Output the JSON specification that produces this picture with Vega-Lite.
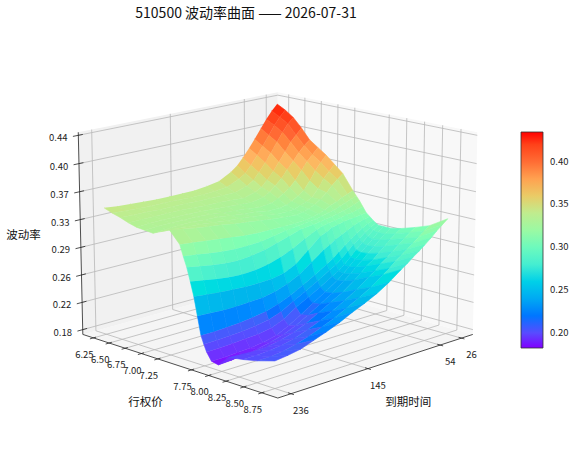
{"$schema":"https://vega.github.io/schema/vega-lite/v6.json","width":576,"height":465,"padding":0,"autosize":"none","background":"white","config":{"view":{"stroke":null},"font":"Noto Sans CJK SC"},
"title":{"text":"510500 波动率曲面 —— 2026-07-31","fontSize":14,"fontWeight":"normal","font":"Noto Sans CJK SC","color":"#111","anchor":"middle","orient":"top","offset":-21,"dx":-42},
"datasets":{"grid":[
{"k":0,"s":6.25,"t":26,"v":0.434},{"k":1,"s":6.25,"t":33,"v":0.426},{"k":2,"s":6.25,"t":40,"v":0.416},{"k":3,"s":6.25,"t":47,"v":0.405},{"k":4,"s":6.25,"t":55,"v":0.392},{"k":5,"s":6.25,"t":62,"v":0.381},{"k":6,"s":6.25,"t":70,"v":0.37},{"k":7,"s":6.25,"t":77,"v":0.361},{"k":8,"s":6.25,"t":85,"v":0.354},{"k":9,"s":6.25,"t":100,"v":0.345},{"k":10,"s":6.25,"t":115,"v":0.342},{"k":11,"s":6.25,"t":130,"v":0.34},{"k":12,"s":6.25,"t":145,"v":0.34},{"k":13,"s":6.25,"t":160,"v":0.34},{"k":14,"s":6.25,"t":176,"v":0.34},{"k":15,"s":6.25,"t":191,"v":0.341},{"k":16,"s":6.25,"t":206,"v":0.342},{"k":17,"s":6.25,"t":221,"v":0.343},{"k":18,"s":6.25,"t":236,"v":0.345},
{"k":100,"s":6.375,"t":26,"v":0.428},{"k":101,"s":6.375,"t":33,"v":0.42},{"k":102,"s":6.375,"t":40,"v":0.41},{"k":103,"s":6.375,"t":47,"v":0.398},{"k":104,"s":6.375,"t":55,"v":0.385},{"k":105,"s":6.375,"t":62,"v":0.374},{"k":106,"s":6.375,"t":70,"v":0.362},{"k":107,"s":6.375,"t":77,"v":0.353},{"k":108,"s":6.375,"t":85,"v":0.347},{"k":109,"s":6.375,"t":100,"v":0.34},{"k":110,"s":6.375,"t":115,"v":0.338},{"k":111,"s":6.375,"t":130,"v":0.337},{"k":112,"s":6.375,"t":145,"v":0.337},{"k":113,"s":6.375,"t":160,"v":0.338},{"k":114,"s":6.375,"t":176,"v":0.338},{"k":115,"s":6.375,"t":191,"v":0.338},{"k":116,"s":6.375,"t":206,"v":0.339},{"k":117,"s":6.375,"t":221,"v":0.34},{"k":118,"s":6.375,"t":236,"v":0.341},
{"k":200,"s":6.5,"t":26,"v":0.42},{"k":201,"s":6.5,"t":33,"v":0.413},{"k":202,"s":6.5,"t":40,"v":0.403},{"k":203,"s":6.5,"t":47,"v":0.391},{"k":204,"s":6.5,"t":55,"v":0.378},{"k":205,"s":6.5,"t":62,"v":0.366},{"k":206,"s":6.5,"t":70,"v":0.355},{"k":207,"s":6.5,"t":77,"v":0.346},{"k":208,"s":6.5,"t":85,"v":0.34},{"k":209,"s":6.5,"t":100,"v":0.335},{"k":210,"s":6.5,"t":115,"v":0.335},{"k":211,"s":6.5,"t":130,"v":0.335},{"k":212,"s":6.5,"t":145,"v":0.335},{"k":213,"s":6.5,"t":160,"v":0.336},{"k":214,"s":6.5,"t":176,"v":0.336},{"k":215,"s":6.5,"t":191,"v":0.336},{"k":216,"s":6.5,"t":206,"v":0.337},{"k":217,"s":6.5,"t":221,"v":0.337},{"k":218,"s":6.5,"t":236,"v":0.338},
{"k":300,"s":6.625,"t":26,"v":0.408},{"k":301,"s":6.625,"t":33,"v":0.4},{"k":302,"s":6.625,"t":40,"v":0.392},{"k":303,"s":6.625,"t":47,"v":0.38},{"k":304,"s":6.625,"t":55,"v":0.368},{"k":305,"s":6.625,"t":62,"v":0.357},{"k":306,"s":6.625,"t":70,"v":0.347},{"k":307,"s":6.625,"t":77,"v":0.339},{"k":308,"s":6.625,"t":85,"v":0.334},{"k":309,"s":6.625,"t":100,"v":0.33},{"k":310,"s":6.625,"t":115,"v":0.331},{"k":311,"s":6.625,"t":130,"v":0.332},{"k":312,"s":6.625,"t":145,"v":0.332},{"k":313,"s":6.625,"t":160,"v":0.333},{"k":314,"s":6.625,"t":176,"v":0.334},{"k":315,"s":6.625,"t":191,"v":0.334},{"k":316,"s":6.625,"t":206,"v":0.334},{"k":317,"s":6.625,"t":221,"v":0.334},{"k":318,"s":6.625,"t":236,"v":0.334},
{"k":400,"s":6.75,"t":26,"v":0.394},{"k":401,"s":6.75,"t":33,"v":0.388},{"k":402,"s":6.75,"t":40,"v":0.38},{"k":403,"s":6.75,"t":47,"v":0.37},{"k":404,"s":6.75,"t":55,"v":0.36},{"k":405,"s":6.75,"t":62,"v":0.35},{"k":406,"s":6.75,"t":70,"v":0.342},{"k":407,"s":6.75,"t":77,"v":0.335},{"k":408,"s":6.75,"t":85,"v":0.33},{"k":409,"s":6.75,"t":100,"v":0.327},{"k":410,"s":6.75,"t":115,"v":0.328},{"k":411,"s":6.75,"t":130,"v":0.329},{"k":412,"s":6.75,"t":145,"v":0.33},{"k":413,"s":6.75,"t":160,"v":0.331},{"k":414,"s":6.75,"t":176,"v":0.332},{"k":415,"s":6.75,"t":191,"v":0.332},{"k":416,"s":6.75,"t":206,"v":0.332},{"k":417,"s":6.75,"t":221,"v":0.332},{"k":418,"s":6.75,"t":236,"v":0.331},
{"k":500,"s":6.875,"t":26,"v":0.386},{"k":501,"s":6.875,"t":33,"v":0.378},{"k":502,"s":6.875,"t":40,"v":0.37},{"k":503,"s":6.875,"t":47,"v":0.36},{"k":504,"s":6.875,"t":55,"v":0.348},{"k":505,"s":6.875,"t":62,"v":0.34},{"k":506,"s":6.875,"t":70,"v":0.334},{"k":507,"s":6.875,"t":77,"v":0.329},{"k":508,"s":6.875,"t":85,"v":0.325},{"k":509,"s":6.875,"t":100,"v":0.323},{"k":510,"s":6.875,"t":115,"v":0.325},{"k":511,"s":6.875,"t":130,"v":0.327},{"k":512,"s":6.875,"t":145,"v":0.328},{"k":513,"s":6.875,"t":160,"v":0.33},{"k":514,"s":6.875,"t":176,"v":0.331},{"k":515,"s":6.875,"t":191,"v":0.331},{"k":516,"s":6.875,"t":206,"v":0.331},{"k":517,"s":6.875,"t":221,"v":0.331},{"k":518,"s":6.875,"t":236,"v":0.33},
{"k":600,"s":7,"t":26,"v":0.378},{"k":601,"s":7,"t":33,"v":0.37},{"k":602,"s":7,"t":40,"v":0.36},{"k":603,"s":7,"t":47,"v":0.348},{"k":604,"s":7,"t":55,"v":0.337},{"k":605,"s":7,"t":62,"v":0.331},{"k":606,"s":7,"t":70,"v":0.326},{"k":607,"s":7,"t":77,"v":0.323},{"k":608,"s":7,"t":85,"v":0.321},{"k":609,"s":7,"t":100,"v":0.321},{"k":610,"s":7,"t":115,"v":0.324},{"k":611,"s":7,"t":130,"v":0.325},{"k":612,"s":7,"t":145,"v":0.327},{"k":613,"s":7,"t":160,"v":0.329},{"k":614,"s":7,"t":176,"v":0.33},{"k":615,"s":7,"t":191,"v":0.331},{"k":616,"s":7,"t":206,"v":0.331},{"k":617,"s":7,"t":221,"v":0.33},{"k":618,"s":7,"t":236,"v":0.329},
{"k":700,"s":7.125,"t":26,"v":0.368},{"k":701,"s":7.125,"t":33,"v":0.36},{"k":702,"s":7.125,"t":40,"v":0.352},{"k":703,"s":7.125,"t":47,"v":0.34},{"k":704,"s":7.125,"t":55,"v":0.33},{"k":705,"s":7.125,"t":62,"v":0.326},{"k":706,"s":7.125,"t":70,"v":0.323},{"k":707,"s":7.125,"t":77,"v":0.32},{"k":708,"s":7.125,"t":85,"v":0.319},{"k":709,"s":7.125,"t":100,"v":0.319},{"k":710,"s":7.125,"t":115,"v":0.322},{"k":711,"s":7.125,"t":130,"v":0.324},{"k":712,"s":7.125,"t":145,"v":0.326},{"k":713,"s":7.125,"t":160,"v":0.327},{"k":714,"s":7.125,"t":176,"v":0.329},{"k":715,"s":7.125,"t":191,"v":0.331},{"k":716,"s":7.125,"t":206,"v":0.332},{"k":717,"s":7.125,"t":221,"v":0.333},{"k":718,"s":7.125,"t":236,"v":0.334},
{"k":800,"s":7.25,"t":26,"v":0.358},{"k":801,"s":7.25,"t":33,"v":0.352},{"k":802,"s":7.25,"t":40,"v":0.345},{"k":803,"s":7.25,"t":47,"v":0.337},{"k":804,"s":7.25,"t":55,"v":0.33},{"k":805,"s":7.25,"t":62,"v":0.325},{"k":806,"s":7.25,"t":70,"v":0.321},{"k":807,"s":7.25,"t":77,"v":0.319},{"k":808,"s":7.25,"t":85,"v":0.317},{"k":809,"s":7.25,"t":100,"v":0.318},{"k":810,"s":7.25,"t":115,"v":0.32},{"k":811,"s":7.25,"t":130,"v":0.322},{"k":812,"s":7.25,"t":145,"v":0.324},{"k":813,"s":7.25,"t":160,"v":0.326},{"k":814,"s":7.25,"t":176,"v":0.329},{"k":815,"s":7.25,"t":191,"v":0.331},{"k":816,"s":7.25,"t":206,"v":0.333},{"k":817,"s":7.25,"t":221,"v":0.336},{"k":818,"s":7.25,"t":236,"v":0.339},
{"k":900,"s":7.4,"t":26,"v":0.338},{"k":901,"s":7.4,"t":33,"v":0.335},{"k":902,"s":7.4,"t":40,"v":0.332},{"k":903,"s":7.4,"t":47,"v":0.328},{"k":904,"s":7.4,"t":55,"v":0.325},{"k":905,"s":7.4,"t":62,"v":0.321},{"k":906,"s":7.4,"t":70,"v":0.318},{"k":907,"s":7.4,"t":77,"v":0.316},{"k":908,"s":7.4,"t":85,"v":0.314},{"k":909,"s":7.4,"t":100,"v":0.313},{"k":910,"s":7.4,"t":115,"v":0.313},{"k":911,"s":7.4,"t":130,"v":0.313},{"k":912,"s":7.4,"t":145,"v":0.313},{"k":913,"s":7.4,"t":160,"v":0.314},{"k":914,"s":7.4,"t":176,"v":0.316},{"k":915,"s":7.4,"t":191,"v":0.318},{"k":916,"s":7.4,"t":206,"v":0.32},{"k":917,"s":7.4,"t":221,"v":0.322},{"k":918,"s":7.4,"t":236,"v":0.324},
{"k":1000,"s":7.45,"t":26,"v":0.332},{"k":1001,"s":7.45,"t":33,"v":0.329},{"k":1002,"s":7.45,"t":40,"v":0.326},{"k":1003,"s":7.45,"t":47,"v":0.323},{"k":1004,"s":7.45,"t":55,"v":0.32},{"k":1005,"s":7.45,"t":62,"v":0.318},{"k":1006,"s":7.45,"t":70,"v":0.316},{"k":1007,"s":7.45,"t":77,"v":0.314},{"k":1008,"s":7.45,"t":85,"v":0.313},{"k":1009,"s":7.45,"t":100,"v":0.311},{"k":1010,"s":7.45,"t":115,"v":0.309},{"k":1011,"s":7.45,"t":130,"v":0.306},{"k":1012,"s":7.45,"t":145,"v":0.303},{"k":1013,"s":7.45,"t":160,"v":0.302},{"k":1014,"s":7.45,"t":176,"v":0.302},{"k":1015,"s":7.45,"t":191,"v":0.303},{"k":1016,"s":7.45,"t":206,"v":0.305},{"k":1017,"s":7.45,"t":221,"v":0.308},{"k":1018,"s":7.45,"t":236,"v":0.31},
{"k":1100,"s":7.5,"t":26,"v":0.326},{"k":1101,"s":7.5,"t":33,"v":0.323},{"k":1102,"s":7.5,"t":40,"v":0.32},{"k":1103,"s":7.5,"t":47,"v":0.318},{"k":1104,"s":7.5,"t":55,"v":0.316},{"k":1105,"s":7.5,"t":62,"v":0.314},{"k":1106,"s":7.5,"t":70,"v":0.313},{"k":1107,"s":7.5,"t":77,"v":0.311},{"k":1108,"s":7.5,"t":85,"v":0.31},{"k":1109,"s":7.5,"t":100,"v":0.308},{"k":1110,"s":7.5,"t":115,"v":0.303},{"k":1111,"s":7.5,"t":130,"v":0.298},{"k":1112,"s":7.5,"t":145,"v":0.293},{"k":1113,"s":7.5,"t":160,"v":0.29},{"k":1114,"s":7.5,"t":176,"v":0.288},{"k":1115,"s":7.5,"t":191,"v":0.289},{"k":1116,"s":7.5,"t":206,"v":0.291},{"k":1117,"s":7.5,"t":221,"v":0.294},{"k":1118,"s":7.5,"t":236,"v":0.297},
{"k":1200,"s":7.55,"t":26,"v":0.319},{"k":1201,"s":7.55,"t":33,"v":0.317},{"k":1202,"s":7.55,"t":40,"v":0.315},{"k":1203,"s":7.55,"t":47,"v":0.314},{"k":1204,"s":7.55,"t":55,"v":0.312},{"k":1205,"s":7.55,"t":62,"v":0.31},{"k":1206,"s":7.55,"t":70,"v":0.309},{"k":1207,"s":7.55,"t":77,"v":0.307},{"k":1208,"s":7.55,"t":85,"v":0.304},{"k":1209,"s":7.55,"t":100,"v":0.296},{"k":1210,"s":7.55,"t":115,"v":0.287},{"k":1211,"s":7.55,"t":130,"v":0.28},{"k":1212,"s":7.55,"t":145,"v":0.275},{"k":1213,"s":7.55,"t":160,"v":0.272},{"k":1214,"s":7.55,"t":176,"v":0.271},{"k":1215,"s":7.55,"t":191,"v":0.272},{"k":1216,"s":7.55,"t":206,"v":0.274},{"k":1217,"s":7.55,"t":221,"v":0.277},{"k":1218,"s":7.55,"t":236,"v":0.28},
{"k":1300,"s":7.6,"t":26,"v":0.312},{"k":1301,"s":7.6,"t":33,"v":0.311},{"k":1302,"s":7.6,"t":40,"v":0.31},{"k":1303,"s":7.6,"t":47,"v":0.309},{"k":1304,"s":7.6,"t":55,"v":0.308},{"k":1305,"s":7.6,"t":62,"v":0.306},{"k":1306,"s":7.6,"t":70,"v":0.304},{"k":1307,"s":7.6,"t":77,"v":0.3},{"k":1308,"s":7.6,"t":85,"v":0.296},{"k":1309,"s":7.6,"t":100,"v":0.282},{"k":1310,"s":7.6,"t":115,"v":0.268},{"k":1311,"s":7.6,"t":130,"v":0.26},{"k":1312,"s":7.6,"t":145,"v":0.257},{"k":1313,"s":7.6,"t":160,"v":0.256},{"k":1314,"s":7.6,"t":176,"v":0.256},{"k":1315,"s":7.6,"t":191,"v":0.257},{"k":1316,"s":7.6,"t":206,"v":0.258},{"k":1317,"s":7.6,"t":221,"v":0.26},{"k":1318,"s":7.6,"t":236,"v":0.262},
{"k":1400,"s":7.65,"t":26,"v":0.308},{"k":1401,"s":7.65,"t":33,"v":0.306},{"k":1402,"s":7.65,"t":40,"v":0.304},{"k":1403,"s":7.65,"t":47,"v":0.301},{"k":1404,"s":7.65,"t":55,"v":0.297},{"k":1405,"s":7.65,"t":62,"v":0.293},{"k":1406,"s":7.65,"t":70,"v":0.289},{"k":1407,"s":7.65,"t":77,"v":0.284},{"k":1408,"s":7.65,"t":85,"v":0.279},{"k":1409,"s":7.65,"t":100,"v":0.267},{"k":1410,"s":7.65,"t":115,"v":0.255},{"k":1411,"s":7.65,"t":130,"v":0.247},{"k":1412,"s":7.65,"t":145,"v":0.241},{"k":1413,"s":7.65,"t":160,"v":0.238},{"k":1414,"s":7.65,"t":176,"v":0.237},{"k":1415,"s":7.65,"t":191,"v":0.236},{"k":1416,"s":7.65,"t":206,"v":0.236},{"k":1417,"s":7.65,"t":221,"v":0.237},{"k":1418,"s":7.65,"t":236,"v":0.238},
{"k":1500,"s":7.7,"t":26,"v":0.304},{"k":1501,"s":7.7,"t":33,"v":0.301},{"k":1502,"s":7.7,"t":40,"v":0.297},{"k":1503,"s":7.7,"t":47,"v":0.292},{"k":1504,"s":7.7,"t":55,"v":0.286},{"k":1505,"s":7.7,"t":62,"v":0.28},{"k":1506,"s":7.7,"t":70,"v":0.273},{"k":1507,"s":7.7,"t":77,"v":0.267},{"k":1508,"s":7.7,"t":85,"v":0.261},{"k":1509,"s":7.7,"t":100,"v":0.251},{"k":1510,"s":7.7,"t":115,"v":0.242},{"k":1511,"s":7.7,"t":130,"v":0.233},{"k":1512,"s":7.7,"t":145,"v":0.226},{"k":1513,"s":7.7,"t":160,"v":0.221},{"k":1514,"s":7.7,"t":176,"v":0.218},{"k":1515,"s":7.7,"t":191,"v":0.216},{"k":1516,"s":7.7,"t":206,"v":0.215},{"k":1517,"s":7.7,"t":221,"v":0.214},{"k":1518,"s":7.7,"t":236,"v":0.214},
{"k":1600,"s":7.74,"t":26,"v":0.301},{"k":1601,"s":7.74,"t":33,"v":0.297},{"k":1602,"s":7.74,"t":40,"v":0.292},{"k":1603,"s":7.74,"t":47,"v":0.286},{"k":1604,"s":7.74,"t":55,"v":0.28},{"k":1605,"s":7.74,"t":62,"v":0.273},{"k":1606,"s":7.74,"t":70,"v":0.265},{"k":1607,"s":7.74,"t":77,"v":0.259},{"k":1608,"s":7.74,"t":85,"v":0.254},{"k":1609,"s":7.74,"t":100,"v":0.244},{"k":1610,"s":7.74,"t":115,"v":0.235},{"k":1611,"s":7.74,"t":130,"v":0.226},{"k":1612,"s":7.74,"t":145,"v":0.217},{"k":1613,"s":7.74,"t":160,"v":0.211},{"k":1614,"s":7.74,"t":176,"v":0.208},{"k":1615,"s":7.74,"t":191,"v":0.206},{"k":1616,"s":7.74,"t":206,"v":0.205},{"k":1617,"s":7.74,"t":221,"v":0.204},{"k":1618,"s":7.74,"t":236,"v":0.204},
{"k":1700,"s":7.78,"t":26,"v":0.299},{"k":1701,"s":7.78,"t":33,"v":0.294},{"k":1702,"s":7.78,"t":40,"v":0.288},{"k":1703,"s":7.78,"t":47,"v":0.281},{"k":1704,"s":7.78,"t":55,"v":0.274},{"k":1705,"s":7.78,"t":62,"v":0.266},{"k":1706,"s":7.78,"t":70,"v":0.258},{"k":1707,"s":7.78,"t":77,"v":0.252},{"k":1708,"s":7.78,"t":85,"v":0.247},{"k":1709,"s":7.78,"t":100,"v":0.237},{"k":1710,"s":7.78,"t":115,"v":0.228},{"k":1711,"s":7.78,"t":130,"v":0.219},{"k":1712,"s":7.78,"t":145,"v":0.208},{"k":1713,"s":7.78,"t":160,"v":0.201},{"k":1714,"s":7.78,"t":176,"v":0.198},{"k":1715,"s":7.78,"t":191,"v":0.197},{"k":1716,"s":7.78,"t":206,"v":0.196},{"k":1717,"s":7.78,"t":221,"v":0.195},{"k":1718,"s":7.78,"t":236,"v":0.195},
{"k":1800,"s":7.85,"t":26,"v":0.299},{"k":1801,"s":7.85,"t":33,"v":0.293},{"k":1802,"s":7.85,"t":40,"v":0.286},{"k":1803,"s":7.85,"t":47,"v":0.279},{"k":1804,"s":7.85,"t":55,"v":0.272},{"k":1805,"s":7.85,"t":62,"v":0.265},{"k":1806,"s":7.85,"t":70,"v":0.257},{"k":1807,"s":7.85,"t":77,"v":0.25},{"k":1808,"s":7.85,"t":85,"v":0.243},{"k":1809,"s":7.85,"t":100,"v":0.232},{"k":1810,"s":7.85,"t":115,"v":0.222},{"k":1811,"s":7.85,"t":130,"v":0.211},{"k":1812,"s":7.85,"t":145,"v":0.201},{"k":1813,"s":7.85,"t":160,"v":0.193},{"k":1814,"s":7.85,"t":176,"v":0.189},{"k":1815,"s":7.85,"t":191,"v":0.187},{"k":1816,"s":7.85,"t":206,"v":0.186},{"k":1817,"s":7.85,"t":221,"v":0.185},{"k":1818,"s":7.85,"t":236,"v":0.185},
{"k":1900,"s":7.95,"t":26,"v":0.299},{"k":1901,"s":7.95,"t":33,"v":0.293},{"k":1902,"s":7.95,"t":40,"v":0.287},{"k":1903,"s":7.95,"t":47,"v":0.28},{"k":1904,"s":7.95,"t":55,"v":0.273},{"k":1905,"s":7.95,"t":62,"v":0.266},{"k":1906,"s":7.95,"t":70,"v":0.259},{"k":1907,"s":7.95,"t":77,"v":0.252},{"k":1908,"s":7.95,"t":85,"v":0.245},{"k":1909,"s":7.95,"t":100,"v":0.233},{"k":1910,"s":7.95,"t":115,"v":0.223},{"k":1911,"s":7.95,"t":130,"v":0.213},{"k":1912,"s":7.95,"t":145,"v":0.204},{"k":1913,"s":7.95,"t":160,"v":0.197},{"k":1914,"s":7.95,"t":176,"v":0.192},{"k":1915,"s":7.95,"t":191,"v":0.188},{"k":1916,"s":7.95,"t":206,"v":0.186},{"k":1917,"s":7.95,"t":221,"v":0.184},{"k":1918,"s":7.95,"t":236,"v":0.183},
{"k":2000,"s":8.1,"t":26,"v":0.302},{"k":2001,"s":8.1,"t":33,"v":0.297},{"k":2002,"s":8.1,"t":40,"v":0.291},{"k":2003,"s":8.1,"t":47,"v":0.284},{"k":2004,"s":8.1,"t":55,"v":0.277},{"k":2005,"s":8.1,"t":62,"v":0.27},{"k":2006,"s":8.1,"t":70,"v":0.264},{"k":2007,"s":8.1,"t":77,"v":0.257},{"k":2008,"s":8.1,"t":85,"v":0.25},{"k":2009,"s":8.1,"t":100,"v":0.238},{"k":2010,"s":8.1,"t":115,"v":0.229},{"k":2011,"s":8.1,"t":130,"v":0.22},{"k":2012,"s":8.1,"t":145,"v":0.211},{"k":2013,"s":8.1,"t":160,"v":0.204},{"k":2014,"s":8.1,"t":176,"v":0.199},{"k":2015,"s":8.1,"t":191,"v":0.196},{"k":2016,"s":8.1,"t":206,"v":0.195},{"k":2017,"s":8.1,"t":221,"v":0.196},{"k":2018,"s":8.1,"t":236,"v":0.197},
{"k":2100,"s":8.3,"t":26,"v":0.308},{"k":2101,"s":8.3,"t":33,"v":0.303},{"k":2102,"s":8.3,"t":40,"v":0.297},{"k":2103,"s":8.3,"t":47,"v":0.291},{"k":2104,"s":8.3,"t":55,"v":0.284},{"k":2105,"s":8.3,"t":62,"v":0.278},{"k":2106,"s":8.3,"t":70,"v":0.272},{"k":2107,"s":8.3,"t":77,"v":0.265},{"k":2108,"s":8.3,"t":85,"v":0.259},{"k":2109,"s":8.3,"t":100,"v":0.247},{"k":2110,"s":8.3,"t":115,"v":0.237},{"k":2111,"s":8.3,"t":130,"v":0.228},{"k":2112,"s":8.3,"t":145,"v":0.22},{"k":2113,"s":8.3,"t":160,"v":0.213},{"k":2114,"s":8.3,"t":176,"v":0.207},{"k":2115,"s":8.3,"t":191,"v":0.203},{"k":2116,"s":8.3,"t":206,"v":0.201},{"k":2117,"s":8.3,"t":221,"v":0.2},{"k":2118,"s":8.3,"t":236,"v":0.2},
{"k":2200,"s":8.5,"t":26,"v":0.315},{"k":2201,"s":8.5,"t":33,"v":0.31},{"k":2202,"s":8.5,"t":40,"v":0.304},{"k":2203,"s":8.5,"t":47,"v":0.298},{"k":2204,"s":8.5,"t":55,"v":0.292},{"k":2205,"s":8.5,"t":62,"v":0.286},{"k":2206,"s":8.5,"t":70,"v":0.28},{"k":2207,"s":8.5,"t":77,"v":0.273},{"k":2208,"s":8.5,"t":85,"v":0.267},{"k":2209,"s":8.5,"t":100,"v":0.255},{"k":2210,"s":8.5,"t":115,"v":0.246},{"k":2211,"s":8.5,"t":130,"v":0.237},{"k":2212,"s":8.5,"t":145,"v":0.229},{"k":2213,"s":8.5,"t":160,"v":0.222},{"k":2214,"s":8.5,"t":176,"v":0.215},{"k":2215,"s":8.5,"t":191,"v":0.21},{"k":2216,"s":8.5,"t":206,"v":0.206},{"k":2217,"s":8.5,"t":221,"v":0.204},{"k":2218,"s":8.5,"t":236,"v":0.204},
{"k":2300,"s":8.75,"t":26,"v":0.33},{"k":2301,"s":8.75,"t":33,"v":0.324},{"k":2302,"s":8.75,"t":40,"v":0.318},{"k":2303,"s":8.75,"t":47,"v":0.311},{"k":2304,"s":8.75,"t":55,"v":0.304},{"k":2305,"s":8.75,"t":62,"v":0.298},{"k":2306,"s":8.75,"t":70,"v":0.292},{"k":2307,"s":8.75,"t":77,"v":0.286},{"k":2308,"s":8.75,"t":85,"v":0.28},{"k":2309,"s":8.75,"t":100,"v":0.268},{"k":2310,"s":8.75,"t":115,"v":0.258},{"k":2311,"s":8.75,"t":130,"v":0.25},{"k":2312,"s":8.75,"t":145,"v":0.243},{"k":2313,"s":8.75,"t":160,"v":0.235},{"k":2314,"s":8.75,"t":176,"v":0.228},{"k":2315,"s":8.75,"t":191,"v":0.222},{"k":2316,"s":8.75,"t":206,"v":0.216},{"k":2317,"s":8.75,"t":221,"v":0.213},{"k":2318,"s":8.75,"t":236,"v":0.211}
],
"frame":[
{"kind":"pf","id":"pf","o":0,"s":6.08,"t":251,"z":0.176},{"kind":"pf","id":"pf","o":1,"s":8.97,"t":251,"z":0.176},{"kind":"pf","id":"pf","o":2,"s":8.97,"t":11,"z":0.176},{"kind":"pf","id":"pf","o":3,"s":6.08,"t":11,"z":0.176},
{"kind":"pl","id":"pl","o":0,"s":6.08,"t":251,"z":0.176},{"kind":"pl","id":"pl","o":1,"s":6.08,"t":11,"z":0.176},{"kind":"pl","id":"pl","o":2,"s":6.08,"t":11,"z":0.444},{"kind":"pl","id":"pl","o":3,"s":6.08,"t":251,"z":0.444},
{"kind":"pr","id":"pr","o":0,"s":6.08,"t":11,"z":0.176},{"kind":"pr","id":"pr","o":1,"s":8.97,"t":11,"z":0.176},{"kind":"pr","id":"pr","o":2,"s":8.97,"t":11,"z":0.444},{"kind":"pr","id":"pr","o":3,"s":6.08,"t":11,"z":0.444},
{"kind":"g","id":"s1","o":0,"s":6.25,"t":251,"z":0.176},{"kind":"g","id":"s1","o":1,"s":6.25,"t":11,"z":0.176},{"kind":"g","id":"s1","o":2,"s":6.25,"t":11,"z":0.444},
{"kind":"g","id":"s2","o":0,"s":6.5,"t":251,"z":0.176},{"kind":"g","id":"s2","o":1,"s":6.5,"t":11,"z":0.176},{"kind":"g","id":"s2","o":2,"s":6.5,"t":11,"z":0.444},
{"kind":"g","id":"s3","o":0,"s":6.75,"t":251,"z":0.176},{"kind":"g","id":"s3","o":1,"s":6.75,"t":11,"z":0.176},{"kind":"g","id":"s3","o":2,"s":6.75,"t":11,"z":0.444},
{"kind":"g","id":"s4","o":0,"s":7,"t":251,"z":0.176},{"kind":"g","id":"s4","o":1,"s":7,"t":11,"z":0.176},{"kind":"g","id":"s4","o":2,"s":7,"t":11,"z":0.444},
{"kind":"g","id":"s5","o":0,"s":7.25,"t":251,"z":0.176},{"kind":"g","id":"s5","o":1,"s":7.25,"t":11,"z":0.176},{"kind":"g","id":"s5","o":2,"s":7.25,"t":11,"z":0.444},
{"kind":"g","id":"s6","o":0,"s":7.75,"t":251,"z":0.176},{"kind":"g","id":"s6","o":1,"s":7.75,"t":11,"z":0.176},{"kind":"g","id":"s6","o":2,"s":7.75,"t":11,"z":0.444},
{"kind":"g","id":"s7","o":0,"s":8,"t":251,"z":0.176},{"kind":"g","id":"s7","o":1,"s":8,"t":11,"z":0.176},{"kind":"g","id":"s7","o":2,"s":8,"t":11,"z":0.444},
{"kind":"g","id":"s8","o":0,"s":8.25,"t":251,"z":0.176},{"kind":"g","id":"s8","o":1,"s":8.25,"t":11,"z":0.176},{"kind":"g","id":"s8","o":2,"s":8.25,"t":11,"z":0.444},
{"kind":"g","id":"s9","o":0,"s":8.5,"t":251,"z":0.176},{"kind":"g","id":"s9","o":1,"s":8.5,"t":11,"z":0.176},{"kind":"g","id":"s9","o":2,"s":8.5,"t":11,"z":0.444},
{"kind":"g","id":"s10","o":0,"s":8.75,"t":251,"z":0.176},{"kind":"g","id":"s10","o":1,"s":8.75,"t":11,"z":0.176},{"kind":"g","id":"s10","o":2,"s":8.75,"t":11,"z":0.444},
{"kind":"g","id":"t1","o":0,"s":8.97,"t":236,"z":0.176},{"kind":"g","id":"t1","o":1,"s":6.08,"t":236,"z":0.176},{"kind":"g","id":"t1","o":2,"s":6.08,"t":236,"z":0.444},
{"kind":"g","id":"t2","o":0,"s":8.97,"t":145,"z":0.176},{"kind":"g","id":"t2","o":1,"s":6.08,"t":145,"z":0.176},{"kind":"g","id":"t2","o":2,"s":6.08,"t":145,"z":0.444},
{"kind":"g","id":"t3","o":0,"s":8.97,"t":54,"z":0.176},{"kind":"g","id":"t3","o":1,"s":6.08,"t":54,"z":0.176},{"kind":"g","id":"t3","o":2,"s":6.08,"t":54,"z":0.444},
{"kind":"g","id":"t4","o":0,"s":8.97,"t":26,"z":0.176},{"kind":"g","id":"t4","o":1,"s":6.08,"t":26,"z":0.176},{"kind":"g","id":"t4","o":2,"s":6.08,"t":26,"z":0.444},
{"kind":"g","id":"z1","o":0,"s":6.08,"t":251,"z":0.1825},{"kind":"g","id":"z1","o":1,"s":6.08,"t":11,"z":0.1825},{"kind":"g","id":"z1","o":2,"s":8.97,"t":11,"z":0.1825},
{"kind":"g","id":"z2","o":0,"s":6.08,"t":251,"z":0.2193},{"kind":"g","id":"z2","o":1,"s":6.08,"t":11,"z":0.2193},{"kind":"g","id":"z2","o":2,"s":8.97,"t":11,"z":0.2193},
{"kind":"g","id":"z3","o":0,"s":6.08,"t":251,"z":0.2561},{"kind":"g","id":"z3","o":1,"s":6.08,"t":11,"z":0.2561},{"kind":"g","id":"z3","o":2,"s":8.97,"t":11,"z":0.2561},
{"kind":"g","id":"z4","o":0,"s":6.08,"t":251,"z":0.2929},{"kind":"g","id":"z4","o":1,"s":6.08,"t":11,"z":0.2929},{"kind":"g","id":"z4","o":2,"s":8.97,"t":11,"z":0.2929},
{"kind":"g","id":"z5","o":0,"s":6.08,"t":251,"z":0.3297},{"kind":"g","id":"z5","o":1,"s":6.08,"t":11,"z":0.3297},{"kind":"g","id":"z5","o":2,"s":8.97,"t":11,"z":0.3297},
{"kind":"g","id":"z6","o":0,"s":6.08,"t":251,"z":0.3664},{"kind":"g","id":"z6","o":1,"s":6.08,"t":11,"z":0.3664},{"kind":"g","id":"z6","o":2,"s":8.97,"t":11,"z":0.3664},
{"kind":"g","id":"z7","o":0,"s":6.08,"t":251,"z":0.4032},{"kind":"g","id":"z7","o":1,"s":6.08,"t":11,"z":0.4032},{"kind":"g","id":"z7","o":2,"s":8.97,"t":11,"z":0.4032},
{"kind":"g","id":"z8","o":0,"s":6.08,"t":251,"z":0.44},{"kind":"g","id":"z8","o":1,"s":6.08,"t":11,"z":0.44},{"kind":"g","id":"z8","o":2,"s":8.97,"t":11,"z":0.44},
{"kind":"a","id":"ax","o":0,"s":6.08,"t":251,"z":0.176},{"kind":"a","id":"ax","o":1,"s":8.97,"t":251,"z":0.176},{"kind":"a","id":"ax","o":2,"s":8.97,"t":11,"z":0.176},
{"kind":"a","id":"az","o":0,"s":6.08,"t":251,"z":0.176},{"kind":"a","id":"az","o":1,"s":6.08,"t":251,"z":0.444},
{"kind":"a","id":"a1","o":0,"s":6.25,"t":255,"z":0.176},{"kind":"a","id":"a1","o":1,"s":6.25,"t":248,"z":0.176},
{"kind":"a","id":"a2","o":0,"s":6.5,"t":255,"z":0.176},{"kind":"a","id":"a2","o":1,"s":6.5,"t":248,"z":0.176},
{"kind":"a","id":"a3","o":0,"s":6.75,"t":255,"z":0.176},{"kind":"a","id":"a3","o":1,"s":6.75,"t":248,"z":0.176},
{"kind":"a","id":"a4","o":0,"s":7,"t":255,"z":0.176},{"kind":"a","id":"a4","o":1,"s":7,"t":248,"z":0.176},
{"kind":"a","id":"a5","o":0,"s":7.25,"t":255,"z":0.176},{"kind":"a","id":"a5","o":1,"s":7.25,"t":248,"z":0.176},
{"kind":"a","id":"a6","o":0,"s":7.75,"t":255,"z":0.176},{"kind":"a","id":"a6","o":1,"s":7.75,"t":248,"z":0.176},
{"kind":"a","id":"a7","o":0,"s":8,"t":255,"z":0.176},{"kind":"a","id":"a7","o":1,"s":8,"t":248,"z":0.176},
{"kind":"a","id":"a8","o":0,"s":8.25,"t":255,"z":0.176},{"kind":"a","id":"a8","o":1,"s":8.25,"t":248,"z":0.176},
{"kind":"a","id":"a9","o":0,"s":8.5,"t":255,"z":0.176},{"kind":"a","id":"a9","o":1,"s":8.5,"t":248,"z":0.176},
{"kind":"a","id":"a10","o":0,"s":8.75,"t":255,"z":0.176},{"kind":"a","id":"a10","o":1,"s":8.75,"t":248,"z":0.176},
{"kind":"a","id":"b1","o":0,"s":9.01,"t":236,"z":0.176},{"kind":"a","id":"b1","o":1,"s":8.93,"t":236,"z":0.176},
{"kind":"a","id":"b2","o":0,"s":9.01,"t":145,"z":0.176},{"kind":"a","id":"b2","o":1,"s":8.93,"t":145,"z":0.176},
{"kind":"a","id":"b3","o":0,"s":9.01,"t":54,"z":0.176},{"kind":"a","id":"b3","o":1,"s":8.93,"t":54,"z":0.176},
{"kind":"a","id":"b4","o":0,"s":9.01,"t":26,"z":0.176},{"kind":"a","id":"b4","o":1,"s":8.93,"t":26,"z":0.176},
{"kind":"a","id":"c1","o":0,"s":6.08,"t":257,"z":0.1825},{"kind":"a","id":"c1","o":1,"s":6.08,"t":246,"z":0.1825},
{"kind":"a","id":"c2","o":0,"s":6.08,"t":257,"z":0.2193},{"kind":"a","id":"c2","o":1,"s":6.08,"t":246,"z":0.2193},
{"kind":"a","id":"c3","o":0,"s":6.08,"t":257,"z":0.2561},{"kind":"a","id":"c3","o":1,"s":6.08,"t":246,"z":0.2561},
{"kind":"a","id":"c4","o":0,"s":6.08,"t":257,"z":0.2929},{"kind":"a","id":"c4","o":1,"s":6.08,"t":246,"z":0.2929},
{"kind":"a","id":"c5","o":0,"s":6.08,"t":257,"z":0.3297},{"kind":"a","id":"c5","o":1,"s":6.08,"t":246,"z":0.3297},
{"kind":"a","id":"c6","o":0,"s":6.08,"t":257,"z":0.3664},{"kind":"a","id":"c6","o":1,"s":6.08,"t":246,"z":0.3664},
{"kind":"a","id":"c7","o":0,"s":6.08,"t":257,"z":0.4032},{"kind":"a","id":"c7","o":1,"s":6.08,"t":246,"z":0.4032},
{"kind":"a","id":"c8","o":0,"s":6.08,"t":257,"z":0.44},{"kind":"a","id":"c8","o":1,"s":6.08,"t":246,"z":0.44},
{"kind":"ls","s":6.25,"t":251,"z":0.176,"label":"6.25"},{"kind":"ls","s":6.5,"t":251,"z":0.176,"label":"6.50"},{"kind":"ls","s":6.75,"t":251,"z":0.176,"label":"6.75"},{"kind":"ls","s":7,"t":251,"z":0.176,"label":"7.00"},{"kind":"ls","s":7.25,"t":251,"z":0.176,"label":"7.25"},{"kind":"ls","s":7.75,"t":251,"z":0.176,"label":"7.75"},{"kind":"ls","s":8,"t":251,"z":0.176,"label":"8.00"},{"kind":"ls","s":8.25,"t":251,"z":0.176,"label":"8.25"},{"kind":"ls","s":8.5,"t":251,"z":0.176,"label":"8.50"},{"kind":"ls","s":8.75,"t":251,"z":0.176,"label":"8.75"},
{"kind":"lt","s":8.97,"t":236,"z":0.176,"label":"236"},{"kind":"lt","s":8.97,"t":145,"z":0.176,"label":"145"},{"kind":"lt","s":8.97,"t":54,"z":0.176,"label":"54"},{"kind":"lt","s":8.97,"t":26,"z":0.176,"label":"26"},
{"kind":"lz","s":6.08,"t":251,"z":0.1825,"label":"0.18"},{"kind":"lz","s":6.08,"t":251,"z":0.2193,"label":"0.22"},{"kind":"lz","s":6.08,"t":251,"z":0.2561,"label":"0.26"},{"kind":"lz","s":6.08,"t":251,"z":0.2929,"label":"0.29"},{"kind":"lz","s":6.08,"t":251,"z":0.3297,"label":"0.33"},{"kind":"lz","s":6.08,"t":251,"z":0.3664,"label":"0.37"},{"kind":"lz","s":6.08,"t":251,"z":0.4032,"label":"0.40"},{"kind":"lz","s":6.08,"t":251,"z":0.44,"label":"0.44"},
{"kind":"ts","s":7.5,"t":251,"z":0.176,"label":"行权价"},{"kind":"tt","s":8.97,"t":131,"z":0.176,"label":"到期时间"},{"kind":"tz","s":6.08,"t":251,"z":0.31,"label":"波动率"}
]},
"encoding":{"x":{"field":"sx","type":"quantitative","axis":null,"scale":{"domain":[0,576],"nice":false,"zero":false}},"y":{"field":"sy","type":"quantitative","axis":null,"scale":{"domain":[465,0],"nice":false,"zero":false}}},
"layer":[
{"data":{"name":"frame"},
"transform":[
{"calculate":"1.19*((datum.s-6.08)/2.89-0.5)","as":"PX"},{"calculate":"1.19*((251-datum.t)/240-0.5)","as":"PY"},{"calculate":"0.893*((datum.z-0.176)/0.268-0.5)","as":"PZ"},
{"calculate":"0.683*(datum.PX-datum.PY)+0.2588*datum.PZ","as":"w"},
{"calculate":"277.8+2344*0.7071*(datum.PX+datum.PY)/(10-datum.w)","as":"sx"},
{"calculate":"234.5-2344*(0.183*(datum.PY-datum.PX)+0.9659*datum.PZ)/(10-datum.w)","as":"sy"}],
"layer":[
{"transform":[{"filter":"datum.kind=='pf'"}],"mark":{"type":"line","fill":"#f5f5f5","stroke":null,"clip":false},"encoding":{"detail":{"field":"id"},"order":{"field":"o"}}},
{"transform":[{"filter":"datum.kind=='pl'"}],"mark":{"type":"line","fill":"#f1f1f1","stroke":null},"encoding":{"detail":{"field":"id"},"order":{"field":"o"}}},
{"transform":[{"filter":"datum.kind=='pr'"}],"mark":{"type":"line","fill":"#f8f8f8","stroke":null},"encoding":{"detail":{"field":"id"},"order":{"field":"o"}}},
{"transform":[{"filter":"datum.kind=='g'"}],"mark":{"type":"line","stroke":"#b8b8b8","strokeWidth":0.8},"encoding":{"detail":{"field":"id"},"order":{"field":"o"}}},
{"transform":[{"filter":"datum.kind=='a'"}],"mark":{"type":"line","stroke":"#222","strokeWidth":0.8},"encoding":{"detail":{"field":"id"},"order":{"field":"o"}}},
{"transform":[{"filter":"datum.kind=='ls'"}],"mark":{"type":"text","fontSize":9.5,"dx":-9,"dy":17,"color":"#222"},"encoding":{"text":{"field":"label"}}},
{"transform":[{"filter":"datum.kind=='lt'"}],"mark":{"type":"text","fontSize":9.5,"dx":10,"dy":17,"color":"#222"},"encoding":{"text":{"field":"label"}}},
{"transform":[{"filter":"datum.kind=='lz'"}],"mark":{"type":"text","fontSize":9.5,"dx":-20,"dy":3,"color":"#222"},"encoding":{"text":{"field":"label"}}},
{"transform":[{"filter":"datum.kind=='ts'"}],"mark":{"type":"text","fontSize":11.5,"dx":-29,"dy":39,"color":"#111"},"encoding":{"text":{"field":"label"}}},
{"transform":[{"filter":"datum.kind=='tt'"}],"mark":{"type":"text","fontSize":11.5,"dx":29,"dy":38,"color":"#111"},"encoding":{"text":{"field":"label"}}},
{"transform":[{"filter":"datum.kind=='tz'"}],"mark":{"type":"text","fontSize":11.5,"dx":-57,"dy":1,"color":"#111"},"encoding":{"text":{"field":"label"}}}
]},
{"data":{"name":"grid"},
"transform":[
{"calculate":"datum.k+100","as":"k10"},{"calculate":"datum.k+1","as":"k01"},{"calculate":"datum.k+101","as":"k11"},
{"lookup":"k10","from":{"data":{"name":"grid"},"key":"k","fields":["s","t","v"]},"as":["s10","t10","v10"]},
{"lookup":"k01","from":{"data":{"name":"grid"},"key":"k","fields":["s","t","v"]},"as":["s01","t01","v01"]},
{"lookup":"k11","from":{"data":{"name":"grid"},"key":"k","fields":["s","t","v"]},"as":["s11","t11","v11"]},
{"filter":"isValid(datum.v10)&&isValid(datum.v01)&&isValid(datum.v11)"},
{"calculate":"(datum.v+datum.v10+datum.v01+datum.v11)/4","as":"cv"},
{"fold":["v","v10","v11","v01"],"as":["corner","z"]},
{"calculate":"datum.corner=='v'?0:datum.corner=='v10'?1:datum.corner=='v11'?2:3","as":"o"},
{"calculate":"datum.o==0?datum.s:datum.o==1?datum.s10:datum.o==2?datum.s11:datum.s01","as":"cs"},
{"calculate":"datum.o==0?datum.t:datum.o==1?datum.t10:datum.o==2?datum.t11:datum.t01","as":"ct"},
{"calculate":"1.19*((datum.cs-6.08)/2.89-0.5)","as":"PX"},{"calculate":"1.19*((251-datum.ct)/240-0.5)","as":"PY"},{"calculate":"0.893*((datum.z-0.176)/0.268-0.5)","as":"PZ"},
{"calculate":"0.683*(datum.PX-datum.PY)+0.2588*datum.PZ","as":"w"},
{"calculate":"277.8+2344*0.7071*(datum.PX+datum.PY)/(10-datum.w)","as":"sx"},
{"calculate":"234.5-2344*(0.183*(datum.PY-datum.PX)+0.9659*datum.PZ)/(10-datum.w)","as":"sy"}],
"mark":{"type":"line","strokeWidth":0.6},
"encoding":{"detail":{"field":"k"},"order":{"field":"o"},
"fill":{"field":"cv","type":"quantitative","scale":{"domain":[0.1825,0.214,0.2455,0.277,0.3085,0.34,0.3715,0.403,0.4345],"range":["#8000ff","#4062fa","#00b4ec","#40ecd4","#80ffb4","#c0ec8e","#ffb462","#ff6232","#ff0000"]},
"legend":{"orient":"none","legendX":521,"legendY":132,"gradientLength":216,"gradientThickness":22,"title":null,"values":[0.2,0.25,0.3,0.35,0.4],"format":".2f","labelFontSize":9.5,"labelColor":"#222","labelFont":"Noto Sans CJK SC","gradientStrokeColor":"#333","gradientStrokeWidth":0.8,"labelOffset":7}},
"stroke":{"field":"cv","type":"quantitative","scale":{"domain":[0.1825,0.214,0.2455,0.277,0.3085,0.34,0.3715,0.403,0.43451],"range":["#8000ff","#4062fa","#00b4ec","#40ecd4","#80ffb4","#c0ec8e","#ffb462","#ff6232","#ff0000"]},"legend":null}}}
]}
